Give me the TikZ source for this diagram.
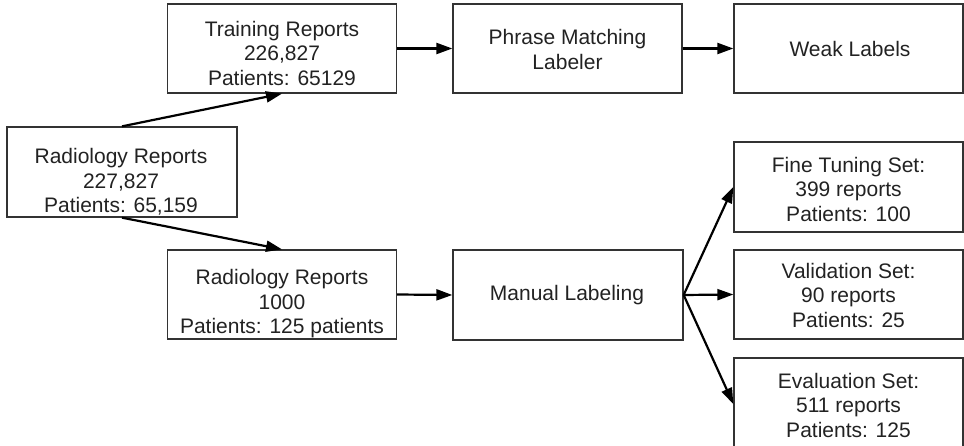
\documentclass[tikz,border=0pt]{standalone}
\usepackage{fontspec}
\setmainfont{Liberation Sans}
\usetikzlibrary{arrows.meta}
\definecolor{ink}{HTML}{222222}
\definecolor{edge}{HTML}{333333}
\tikzset{
  box/.style={draw=edge, line width=1.3pt, minimum width=229pt, minimum height=89pt, inner sep=0pt},
  txt/.style={text=ink, align=center, font=\fontsize{21}{24.5}\selectfont, inner sep=0pt},
  arr/.style={draw=black, line width=2.2pt, -{Triangle[length=16pt,width=11pt]}},
}
\begin{document}
\begin{tikzpicture}[x=1pt,y=-1pt]
\useasboundingbox (0,0) rectangle (964,446);
% boxes
\node[box] (train) at (282,48.5) {};
\node[box] (phrase) at (567.5,48.5) {};
\node[box] (weak) at (848.5,48.5) {};
\node[box, minimum width=230pt, minimum height=90pt] (rad) at (122,172) {};
\node[box] (rad2) at (282,294.5) {};
\node[box, minimum width=230pt, minimum height=90pt] (manual) at (568,295) {};
\node[box, minimum height=90pt] (fine) at (848.5,187) {};
\node[box] (val) at (848.5,294.5) {};
\node[box, minimum height=92pt] (eval) at (848.5,404) {};
% texts
\node[txt] (trainT) at (282,53) {Training Reports\\226,827\\Patients: 65129};
\node[txt] (phraseT) at (567.5,49.5) {Phrase Matching\\Labeler};
\node[txt] (weakT) at (850,48.5) {Weak Labels};
\node[txt] (radT) at (121,182) {Radiology Reports\\227,827\\Patients: 65,159};
\node[txt] (rad2T) at (282,304) {Radiology Reports\\1000\\Patients: 125 patients};
\node[txt] (manualT) at (567,295) {Manual Labeling};
\node[txt] (fineT) at (848.5,189) {Fine Tuning Set:\\399 reports\\Patients: 100};
\node[txt] (valT) at (848.5,295) {Validation Set:\\90 reports\\Patients: 25};
\node[txt] (evalT) at (848.5,405) {Evaluation Set:\\511 reports\\Patients: 125};
% arrows
\draw[arr] (rad.north) -- (train.south);
\draw[arr] (rad.south) -- (rad2.north);
\draw[arr] (train.east) -- (phrase.west);
\draw[arr] (phrase.east) -- (weak.west);
\draw[arr] (rad2.east) -- (manual.west);
\draw[arr] (manual.east) -- (fine.west);
\draw[arr] (manual.east) -- (val.west);
\draw[arr] (manual.east) -- (eval.west);
\end{tikzpicture}
\end{document}
